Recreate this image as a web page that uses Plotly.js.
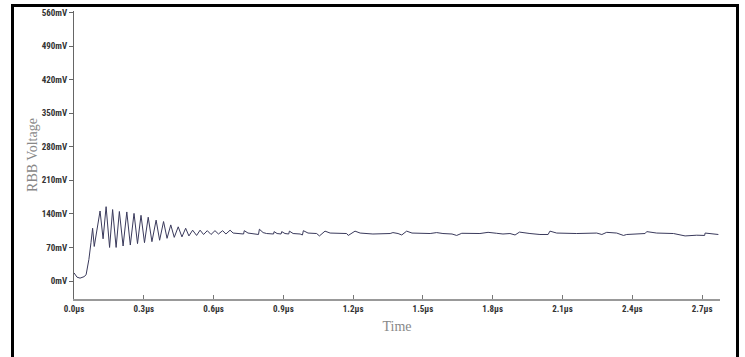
<!DOCTYPE html>
<html>
<head>
<meta charset="utf-8">
<script src="https://cdn.plot.ly/plotly-3.0.1.min.js"></script>
<style>
  html, body { margin: 0; padding: 0; background: #fff; overflow: hidden; width: 745px; height: 357px; }
  #chart { position: absolute; left: 0; top: 0; width: 745px; height: 357px; }
  #frame { position: absolute; left: 11px; top: 4px; width: 722px; height: 400px; border: 3px solid #000; pointer-events: none; }
</style>
</head>
<body>
<div id="chart"></div>
<div id="frame"></div>
<script>
// Time in microseconds
const timeUs = [
  0.000, 0.004, 0.013, 0.026, 0.043, 0.052, 0.064, 0.073, 0.080, 0.087,
  0.112, 0.125, 0.138, 0.153, 0.166, 0.181, 0.195, 0.211, 0.227, 0.242,
  0.258, 0.273, 0.288, 0.303, 0.319, 0.335, 0.353, 0.368, 0.385, 0.400,
  0.416, 0.431, 0.448, 0.464, 0.480, 0.494, 0.510, 0.527, 0.542, 0.557,
  0.573, 0.589, 0.606, 0.621, 0.639, 0.653, 0.671,
  0.684, 0.699, 0.729, 0.732, 0.748, 0.793, 0.797, 0.813, 0.828, 0.858,
  0.860, 0.873, 0.890, 0.893, 0.907, 0.923, 0.926, 0.942, 0.972, 0.982,
  0.986, 1.006, 1.043, 1.055, 1.079, 1.101, 1.172, 1.179, 1.208, 1.230,
  1.285, 1.359, 1.371, 1.393, 1.409, 1.430, 1.453, 1.531, 1.559, 1.586,
  1.625, 1.645, 1.667, 1.745, 1.780, 1.817, 1.844, 1.874, 1.896, 1.915,
  1.939, 1.960, 2.003, 2.038, 2.046, 2.075, 2.161, 2.204, 2.247, 2.269,
  2.290, 2.333, 2.362, 2.376, 2.405, 2.455, 2.462, 2.505, 2.577, 2.613,
  2.627, 2.677, 2.711, 2.713, 2.749, 2.770
];
// RBB voltage in mV
const rbbMv = [
  17, 14, 8, 6, 9, 13, 45, 80, 110, 72,
  146, 88, 155, 70, 149, 70, 145, 73, 144, 75,
  141, 78, 137, 80, 133, 82, 127, 85, 124, 89,
  117, 91, 113, 92, 110, 94, 106, 95, 106, 97,
  105, 97, 105, 98, 105, 98, 106,
  100, 99, 98, 105, 100, 97, 108, 101, 99, 98,
  103, 99, 98, 103, 99, 98, 104, 99, 98, 96,
  105, 100, 99, 94, 104, 100, 99, 95, 104, 100,
  98, 99, 101, 99, 96, 104, 100, 99, 101, 99,
  98, 95, 99.5, 99, 101.5, 99.5, 98, 99, 96, 102,
  100, 99, 97, 97, 104, 100, 99, 99, 100, 97,
  101.5, 100, 95, 97, 98, 99, 103, 100, 99, 95,
  94, 95.5, 95, 100, 99, 97
];
const yTickVals = [0, 70, 140, 210, 280, 350, 420, 490, 560];
const yTickText = ["0mV", "70mV", "140mV", "210mV", "280mV", "350mV", "420mV", "490mV", "560mV"];
const xTickVals = [0, 0.3, 0.6, 0.9, 1.2, 1.5, 1.8, 2.1, 2.4, 2.7];
const xTickText = ["0.0\u00b5s", "0.3\u00b5s", "0.6\u00b5s", "0.9\u00b5s", "1.2\u00b5s", "1.5\u00b5s", "1.8\u00b5s", "2.1\u00b5s", "2.4\u00b5s", "2.7\u00b5s"];

const tickFont = { family: "'Roboto Condensed', 'Liberation Sans Narrow', 'DejaVu Sans Condensed', sans-serif", size: 9, color: '#333', weight: 'bold' };
const titleFont = { family: "'Liberation Serif', 'DejaVu Serif', serif", size: 14, color: '#888' };

const trace = {
  x: timeUs, y: rbbMv, type: 'scatter', mode: 'lines',
  line: { color: '#3a3a5c', width: 1 },
  hoverinfo: 'skip', showlegend: false
};

const layout = {
  width: 745, height: 357,
  margin: { l: 74, r: 25, t: 11, b: 58 },
  paper_bgcolor: '#fff', plot_bgcolor: '#fff',
  xaxis: {
    range: [0, 2.777], tickvals: xTickVals, ticktext: xTickText,
    showgrid: false, zeroline: false, showline: true, linecolor: '#999', linewidth: 2,
    ticks: 'inside', ticklen: 4, tickcolor: '#777', tickwidth: 1,
    tickfont: tickFont,
    title: { text: 'Time', font: titleFont, standoff: 8 }
  },
  yaxis: {
    range: [-37.5, 563], tickvals: yTickVals, ticktext: yTickText,
    showgrid: false, zeroline: false, showline: true, linecolor: '#666', linewidth: 1,
    ticks: 'outside', ticklen: 4, tickcolor: '#666', tickwidth: 1,
    tickfont: tickFont,
    title: { text: 'RBB Voltage', font: titleFont, standoff: 0 }
  }
};

Plotly.newPlot('chart', [trace], layout, { staticPlot: true, displayModeBar: false });
</script>
</body>
</html>
